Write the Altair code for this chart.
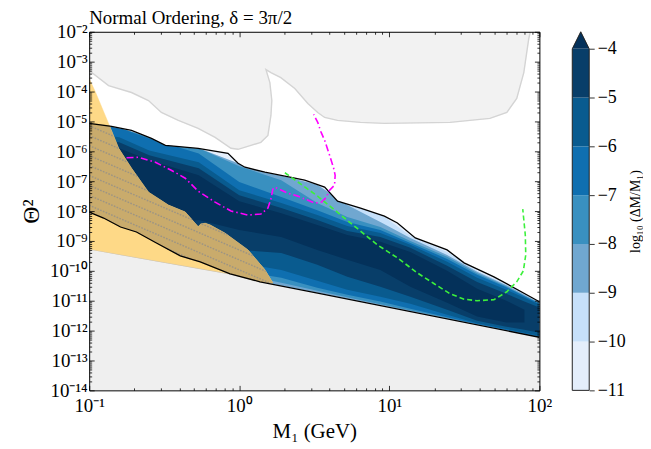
import altair as alt
import pandas as pd

SERIF = "Liberation Serif"

# ---------------- data: lx = log10(M1 / GeV), ly = log10(Theta^2) ----------------
# upper excluded region (light grey)
UPPER_EXCL_LX = [-1.0, -0.871, -0.718, -0.605, -0.519, -0.406, -0.274, -0.161, -0.055, -0.008, 0.078, 0.144,
                 0.191, 0.211, 0.217, 0.204, 0.178, 0.211, 0.277, 0.37, 0.457, 0.523, 0.569, 0.655, 0.808,
                 0.967, 1.405, 1.67, 1.783, 1.849, 1.896, 1.929, 1.939]
UPPER_EXCL_LY = [-3.3, -3.8, -4.033, -4.3, -4.7, -4.967, -5.233, -5.533, -5.9, -5.933, -5.8, -5.7,
                 -5.467, -4.8, -4.3, -3.7, -3.267, -3.367, -3.533, -3.9, -4.4, -4.7, -4.867, -4.967, -5.033,
                 -5.067, -5.033, -4.9, -4.7, -4.233, -3.367, -2.233, -2.0]
# lower excluded region (light grey)
LOWER_EXCL_LX = [-1.0, -0.06, 0.138, 0.522, 2.0]
LOWER_EXCL_LY = [-9.27, -10.1, -10.367, -10.743, -12.223]

# black boundaries of the allowed region
UPPER_LX = [-1.0, -0.851, -0.718, -0.585, -0.492, -0.274, -0.075, -0.008, 0.038, 0.171, 0.304, 0.436,
            0.569, 0.655, 0.808, 0.967, 1.054, 1.173, 1.385, 1.498, 1.697, 2.0]
UPPER_LY = [-5.067, -5.167, -5.3, -5.567, -5.8, -5.9, -6.067, -6.4, -6.533, -6.7, -6.833, -6.967,
            -7.2, -7.667, -7.9, -8.167, -8.4, -8.9, -9.3, -9.733, -10.2, -11.033]
LOWER_LX = [-1.0, -0.904, -0.791, -0.685, -0.552, -0.393, -0.26, -0.061, 0.138, 0.522, 2.0]
LOWER_LY = [-8.033, -8.233, -8.533, -8.7, -9.067, -9.5, -9.7, -10.1, -10.367, -10.743, -12.223]

# contour bands log10(dM/M1) >= level : upper / lower boundaries on a common grid
BAND_LX = [-1.0, -0.80, -0.60, -0.27, 0.0, 0.28, 0.52, 0.72, 0.94, 1.14, 1.385, 1.585, 1.78, 1.90, 2.0]
BOTTOM_LY = [-8.03, -8.5, -8.87, -9.68, -10.18, -10.51, -10.74, -10.94, -11.16, -11.36, -11.61, -11.81,
             -12.01, -12.13, -12.23]
U_M10 = [-5.07, -5.21, -5.53, -5.9, -6.42, -6.81, -7.12, -7.78, -8.1, -8.83, -9.37, -10.0, -10.45, -10.78, -11.05]
U_M9 = [-5.07, -5.21, -5.53, -5.9, -6.42, -6.81, -7.12, -7.8, -8.37, -8.9, -9.47, -10.03, -10.48, -10.8, -11.07]
U_M8 = [-5.07, -5.21, -5.53, -5.9, -6.5, -6.97, -7.73, -8.2, -8.53, -9.0, -9.53, -10.08, -10.52, -10.83, -11.08]
L_M8 = [-8.0, -8.47, -8.85, -9.57, -10.1, -10.4, -10.67, -10.88, -11.12, -11.33, -11.58, -11.8, -12.0, -12.12, -12.22]
U_M7 = [-5.07, -5.21, -5.57, -6.07, -7.03, -7.53, -7.97, -8.37, -8.63, -9.07, -9.6, -10.13, -10.55, -10.85, -11.1]
L_M7 = [-7.93, -8.43, -8.82, -9.47, -10.0, -10.23, -10.57, -10.8, -11.03, -11.27, -11.55, -11.78, -11.98, -12.1, -12.2]
U_M6 = [-5.4, -5.53, -5.97, -6.37, -7.3, -7.73, -8.13, -8.5, -8.73, -9.13, -9.7, -10.23, -10.63, -10.9, -11.13]
L_M6 = [-7.87, -8.37, -8.77, -9.3, -9.73, -9.97, -10.33, -10.63, -10.87, -11.1, -11.47, -11.75, -11.95, -12.07, -12.17]
U_M5 = [-5.57, -5.7, -6.13, -6.57, -7.47, -7.9, -8.3, -8.67, -8.87, -9.23, -9.83, -10.37, -10.77, -11.03, -11.23]
L_M5 = [-7.77, -8.27, -8.67, -8.97, -9.3, -9.4, -9.8, -10.2, -10.53, -10.87, -11.3, -11.67, -11.87, -11.97, -12.07]
U_M4 = [-5.77, -5.9, -6.3, -6.8, -7.67, -8.07, -8.47, -8.8, -9.03, -9.37, -10.0, -10.6, -11.0, -11.3]
L_M4 = [-7.63, -8.13, -8.53, -8.3, -8.63, -8.87, -9.3, -9.63, -9.97, -10.53, -11.07, -11.53, -11.73, -11.73]

# orange region (upper-right edge)
ORANGE_LX = [-1.0, -0.957, -0.871, -0.804, -0.718, -0.605, -0.473, -0.36, -0.274, -0.256, -0.227, -0.194,
             -0.094, 0.058, 0.171, 0.224]
ORANGE_LY = [-3.567, -4.033, -5.067, -5.9, -6.567, -7.367, -7.8, -8.033, -8.523, -8.433, -8.41, -8.467,
             -8.743, -9.3, -9.967, -10.41]
TAN_CORNER = (-0.865, -5.146)

# magenta dash-dot curve
MAGENTA_LX = [-0.751, -0.672, -0.559, -0.453, -0.36, -0.274, -0.161, -0.055, 0.058, 0.144, 0.191, 0.211,
              0.224, 0.237, 0.324, 0.39, 0.503, 0.549, 0.582, 0.596, 0.635, 0.639, 0.629, 0.602, 0.569,
              0.543, 0.523, 0.496]
MAGENTA_LY = [-6.217, -6.2, -6.367, -6.633, -6.9, -7.333, -7.7, -8.0, -8.133, -8.1, -7.9, -7.6,
              -7.267, -7.2, -7.4, -7.5, -7.733, -7.7, -7.533, -7.333, -7.133, -6.8, -6.567, -6.133, -5.633,
              -5.333, -5.033, -4.767]
# green dashed curve
GREEN_LX = [0.304, 0.522, 0.742, 0.921, 1.054, 1.186, 1.299, 1.405, 1.498, 1.584, 1.697, 1.783, 1.849,
            1.893, 1.909, 1.906, 1.889]
GREEN_LY = [-6.717, -7.5, -8.4, -9.133, -9.567, -10.067, -10.433, -10.767, -10.95, -11.0, -10.967, -10.7,
            -10.367, -10.0, -9.467, -8.8, -7.933]

# hatch pattern inside the overlap region (slope and spacing in decades)
HATCH_SLOPE = -2.16
HATCH_STEP = 0.333
HATCH_C0, HATCH_C1 = -10.3, -7.1

# colour levels
CB_EDGES = [-11, -10, -9, -8, -7, -6, -5, -4]
CB_COLORS = ["#e4eefb", "#c6e0fa", "#70a7d0", "#3990c0", "#0f6fb0", "#095b8f", "#083e69"]
CB_OVER = "#04315a"
CB_ARROW_TIP = -3.65

X_TICK_EXP = [-1, 0, 1, 2]
X_TICK_LABELS = ["10⁻¹", "10⁰", "10¹", "10²"]
Y_TICK_EXP = list(range(-14, -1))
Y_TICK_LABELS = ["10⁻¹⁴", "10⁻¹³", "10⁻¹²", "10⁻¹¹", "10⁻¹⁰", "10⁻⁹", "10⁻⁸", "10⁻⁷",
                 "10⁻⁶", "10⁻⁵", "10⁻⁴", "10⁻³", "10⁻²"]

# ---------------- helpers ----------------
XS = alt.Scale(type="log", domain=[0.1, 100], nice=False)
YS = alt.Scale(type="log", domain=[1e-14, 1e-2], nice=False)

MAJ = "abs(log(datum.value)/LN10 - round(log(datum.value)/LN10)) < 0.001"
TICK_SIZE = {"condition": {"test": MAJ, "value": -5}, "value": -2.5}


def all_ticks(e0, e1):
    vals = []
    for e in range(e0, e1):
        for k in range(1, 10):
            vals.append(k * 10.0 ** e)
    vals.append(10.0 ** e1)
    return vals


def label_expr(exps, labels):
    expr = "''"
    for e, lab in zip(exps, labels):
        expr = f"abs(log(datum.value)/LN10 - ({e})) < 0.001 ? '{lab}' : " + expr
    return expr


common_axis = dict(tickSize=TICK_SIZE, tickColor="black", tickWidth=0.8, domain=True, domainColor="black",
                   domainWidth=1, grid=False, labelOverlap=False, labelFlush=False, zindex=2)

AX_BOTTOM = alt.Axis(orient="bottom", values=all_ticks(-1, 2), labelExpr=label_expr(X_TICK_EXP, X_TICK_LABELS),
                     labelFont=SERIF, labelFontSize=19, labelColor="black", labelPadding=11,
                     title="M₁ (GeV)", titleFont=SERIF, titleFontSize=21, titleFontWeight="normal",
                     titleColor="black", titlePadding=3, **common_axis)
AX_TOP = alt.Axis(orient="top", values=all_ticks(-1, 2), labels=False, title=None, **common_axis)
AX_LEFT = alt.Axis(orient="left", values=all_ticks(-14, -2), labelExpr=label_expr(Y_TICK_EXP, Y_TICK_LABELS),
                   labelFont=SERIF, labelFontSize=19, labelColor="black", labelPadding=7,
                   title="Θ²", titleFont=SERIF, titleFontSize=24, titleFontWeight="normal",
                   titleColor="black", titlePadding=6, **common_axis)
AX_RIGHT = alt.Axis(orient="right", values=all_ticks(-14, -2), labels=False, title=None, **common_axis)


def enc(xf, yf, xa=None, ya=None):
    return dict(x=alt.X(xf, type="quantitative", scale=XS, axis=xa),
                y=alt.Y(yf, type="quantitative", scale=YS, axis=ya))


def poly_df(lx, ly):
    return pd.DataFrame({"x": [10 ** v for v in lx], "y": [10 ** v for v in ly], "i": list(range(len(lx)))})


def polygon(lx, ly, fill, xa=None, ya=None):
    return alt.Chart(poly_df(lx, ly)).mark_line(fill=fill, stroke=fill, strokeWidth=0.5, clip=True).encode(
        order=alt.Order("i:Q"), **enc("x", "y", xa, ya))


def curve(lx, ly, color, width=1.3, dash=None):
    kw = dict(stroke=color, strokeWidth=width, clip=True)
    if dash:
        kw["strokeDash"] = dash
    return alt.Chart(poly_df(lx, ly)).mark_line(**kw).encode(order=alt.Order("i:Q"), **enc("x", "y"))


def band(lx, lo, hi, color):
    df = pd.DataFrame({"x": [10 ** v for v in lx], "lo": [10 ** v for v in lo], "hi": [10 ** v for v in hi]})
    return alt.Chart(df).mark_area(color=color, clip=True, opacity=1).encode(
        x=alt.X("x:Q", scale=XS, axis=None),
        y=alt.Y("lo:Q", scale=YS, axis=None, stack=None),
        y2="hi:Q")


def hatch_df(lx, ly):
    """Intersect parallel hatch lines with the polygon (lx, ly)."""
    rows = []
    n = len(lx)
    c = HATCH_C0
    k = 0
    while c <= HATCH_C1:
        xs = []
        for i in range(n):
            x1, y1, x2, y2 = lx[i], ly[i], lx[(i + 1) % n], ly[(i + 1) % n]
            f1 = y1 - (c + HATCH_SLOPE * x1)
            f2 = y2 - (c + HATCH_SLOPE * x2)
            if (f1 > 0) != (f2 > 0):
                t = f1 / (f1 - f2)
                xs.append(x1 + t * (x2 - x1))
        xs.sort()
        for j in range(0, len(xs) - 1, 2):
            for m, xv in enumerate((xs[j], xs[j + 1])):
                rows.append({"x": 10 ** xv, "y": 10 ** (c + HATCH_SLOPE * xv), "g": f"{k}-{j}", "i": m})
        c += HATCH_STEP
        k += 1
    return pd.DataFrame(rows)


layers = []
# outer allowed region (level -11)
layers.append(polygon(UPPER_LX + LOWER_LX[::-1], UPPER_LY + LOWER_LY[::-1], CB_COLORS[0]))
# nested contour bands
layers.append(band(BAND_LX, BOTTOM_LY, U_M10, CB_COLORS[1]))
layers.append(band(BAND_LX, BOTTOM_LY, U_M9, CB_COLORS[2]))
layers.append(band(BAND_LX, L_M8, U_M8, CB_COLORS[3]))
layers.append(band(BAND_LX, L_M7, U_M7, CB_COLORS[4]))
layers.append(band(BAND_LX, L_M6, U_M6, CB_COLORS[5]))
layers.append(band(BAND_LX, L_M5, U_M5, CB_COLORS[6]))
layers.append(band(BAND_LX[:len(U_M4)], L_M4, U_M4, CB_OVER))
# white above the upper boundary (carries bottom/left axes)
layers.append(polygon(UPPER_LX + [2.0, -1.0], UPPER_LY + [-2.0, -2.0], "white", AX_BOTTOM, AX_LEFT))
# grey excluded regions (carries top/right axes)
layers.append(polygon(UPPER_EXCL_LX + [-1.0], UPPER_EXCL_LY + [-2.0], "#f2f2f2", AX_TOP, AX_RIGHT))
layers.append(curve(UPPER_EXCL_LX, UPPER_EXCL_LY, "#d4d4d4", 1.4))
layers.append(polygon(LOWER_EXCL_LX + [2.0, -1.0], LOWER_EXCL_LY + [-14.0, -14.0], "#efefef"))
layers.append(curve(LOWER_EXCL_LX[:2], LOWER_EXCL_LY[:2], "#bdbdbd", 1.2))
# orange region and its overlap with the allowed band
orange_lx = ORANGE_LX + [v for v in LOWER_EXCL_LX[:3][::-1]]
orange_ly = ORANGE_LY + [v for v in LOWER_EXCL_LY[:3][::-1]]
layers.append(polygon(orange_lx, orange_ly, "#fed987"))
low_part = [(a, b) for a, b in zip(LOWER_LX, LOWER_LY) if a <= 0.14][::-1]
tan_lx = [UPPER_LX[0], TAN_CORNER[0]] + ORANGE_LX[3:] + [p[0] for p in low_part]
tan_ly = [UPPER_LY[0], TAN_CORNER[1]] + ORANGE_LY[3:] + [p[1] for p in low_part]
layers.append(polygon(tan_lx, tan_ly, "#c9ab6c"))
layers.append(alt.Chart(hatch_df(tan_lx, tan_ly)).mark_line(
    stroke="#8c8c8c", strokeWidth=1.4, strokeDash=[1.6, 1.4], opacity=0.75, clip=True).encode(
    detail="g:N", order=alt.Order("i:Q"), **enc("x", "y")))
# black boundaries
layers.append(curve(UPPER_LX, UPPER_LY, "black", 1.3))
layers.append(curve(LOWER_LX, LOWER_LY, "black", 1.3))
# other curves
layers.append(curve(MAGENTA_LX, MAGENTA_LY, "#ff00ff", 1.6, [7, 3, 1.5, 3]))
layers.append(curve(GREEN_LX, GREEN_LY, "#3cf03c", 1.6, [5, 3]))

main = alt.layer(*layers).resolve_axis(x="independent", y="independent").properties(
    width=452, height=360,
    title=alt.TitleParams("Normal Ordering, δ = 3π/2", anchor="start", frame="group", font=SERIF,
                          fontSize=19, fontWeight="normal", color="black", offset=-5))

# ---------------- colour bar ----------------
CBS = alt.Scale(domain=[-11, CB_ARROW_TIP], nice=False, zero=False)
CBX = alt.Scale(domain=[0, 1], nice=False, zero=False)
cb_df = pd.DataFrame({"lo": CB_EDGES[:-1], "hi": CB_EDGES[1:], "c": CB_COLORS})
cb_axis = alt.Axis(orient="right", values=CB_EDGES, labelExpr="'\u2212' + (-datum.value)", tickSize=5,
                   tickColor="black", tickWidth=0.8, domain=False, grid=False, labelFont=SERIF,
                   labelFontSize=18, labelColor="black", labelPadding=3, zindex=2,
                   title="log₁₀ (ΔM/M₁)", titleAngle=270, titleFont=SERIF, titleFontSize=14,
                   titleFontWeight="normal", titleColor="black", titlePadding=17)
cb_rects = alt.Chart(cb_df).mark_rect().encode(
    y=alt.Y("lo:Q", scale=CBS, axis=cb_axis), y2="hi:Q", color=alt.Color("c:N", scale=None))
arrow_df = pd.DataFrame({"x": [0, 0.5, 1], "top": [CB_EDGES[-1], CB_ARROW_TIP, CB_EDGES[-1]],
                         "base": [CB_EDGES[-1]] * 3})
cb_arrow = alt.Chart(arrow_df).mark_area(color=CB_OVER).encode(
    x=alt.X("x:Q", scale=CBX, axis=None), y=alt.Y("top:Q", scale=CBS, axis=cb_axis), y2="base:Q")
outline_df = pd.DataFrame({"x": [0, 0, 0.5, 1, 1, 0],
                           "y": [-11, CB_EDGES[-1], CB_ARROW_TIP, CB_EDGES[-1], -11, -11],
                           "i": list(range(6))})
cb_outline = alt.Chart(outline_df).mark_line(stroke="#222222", strokeWidth=1).encode(
    x=alt.X("x:Q", scale=CBX, axis=None), y=alt.Y("y:Q", scale=CBS, axis=cb_axis), order="i:Q")
colorbar = alt.layer(cb_rects, cb_arrow, cb_outline).properties(width=17, height=360)

chart = alt.hconcat(main, colorbar, spacing=18).configure_view(stroke=None).properties(
    padding={"left": 11.5, "top": 0, "right": 0, "bottom": 5})

chart.save("out.html", embed_options={"renderer": "svg", "actions": False})
